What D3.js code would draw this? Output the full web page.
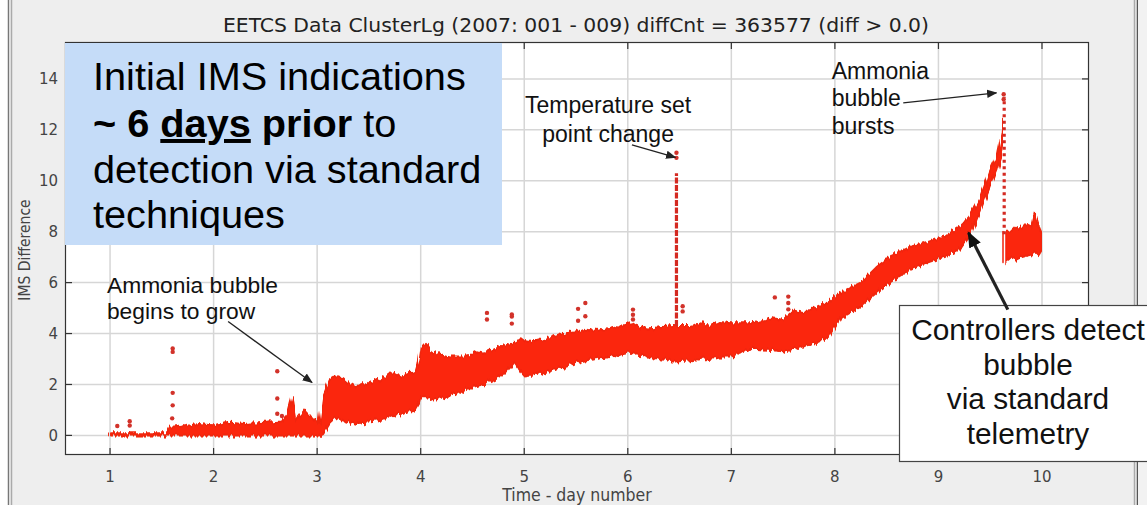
<!DOCTYPE html>
<html><head><meta charset="utf-8">
<script src="https://cdn.jsdelivr.net/npm/d3@7"></script>
<style>
html,body{margin:0;padding:0;background:#fff;}
svg{display:block;}
</style></head><body>
<svg id="c" width="1147" height="505"></svg>
<script>
// ---------- data ----------
const title = "EETCS Data ClusterLg (2007: 001 - 009) diffCnt = 363577 (diff > 0.0)";
const xLabel = "Time - day number";
const yLabel = "IMS Difference";
const xTicks = [1,2,3,4,5,6,7,8,9,10];
const yTicks = [0,2,4,6,8,10,12,14];

// envelope of the dense cloud of IMS difference points (null = gap)
const bandDays = [1.0,1.55,1.58,1.7,1.85,2.0,2.15,2.3,2.5,2.65,2.72,2.76,2.8,2.88,2.95,3.02,3.06,3.12,3.18,3.25,3.32,3.4,3.47,3.5,3.6,3.66,3.73,3.8,3.85,3.95,3.98,4.0,4.05,4.1,4.15,4.3,4.45,4.55,4.64,4.72,4.8,4.9,5.0,5.1,5.2,5.3,5.4,5.5,5.6,5.7,5.85,6.02,6.1,6.2,6.3,6.45,6.6,6.7,6.8,6.9,7.0,7.2,7.4,7.5,7.6,7.7,7.8,7.95,8.05,8.15,8.25,8.4,8.56,8.72,8.9,9.05,9.2,9.3,9.4,9.5,9.57,9.61,9.63,9.637,9.645,9.7,9.75,9.8,9.85,9.9,9.93,9.97,10.0];
const bandLo   = [0,0,0,0,0,0,0,0,0,0,0,0,0,0,0,0,0.1,0.5,0.7,0.6,0.5,0.45,0.5,0.55,0.6,0.7,0.75,0.85,0.9,1.0,1.2,1.5,1.5,1.45,1.4,1.6,1.8,1.95,2.05,2.2,2.4,2.9,2.35,2.4,2.5,2.6,2.7,2.85,2.95,3.0,3.1,3.25,3.2,3.1,3.0,2.9,2.95,3.0,3.05,3.1,3.1,3.4,3.35,3.3,3.4,3.5,3.6,3.9,4.6,4.85,5.05,5.6,6.1,6.5,6.8,7.0,7.3,7.8,8.8,9.8,10.5,11.0,11.5,null,6.8,7.0,6.9,7.0,7.05,7.1,7.2,7.1,7.3];
const bandHi   = [0.08,0.08,0.3,0.35,0.45,0.4,0.5,0.45,0.5,0.55,0.9,1.5,0.6,1.0,0.7,0.5,1.6,2.2,2.35,2.25,2.0,1.9,2.1,2.0,2.2,2.35,2.45,2.3,2.4,2.5,2.9,3.4,3.6,3.3,3.2,3.1,3.1,3.3,3.25,3.4,3.5,3.65,3.75,3.7,3.8,3.9,4.0,4.05,4.15,4.1,4.2,4.4,4.3,4.2,4.25,4.3,4.3,4.4,4.35,4.45,4.4,4.4,4.6,4.55,4.9,4.8,5.0,5.25,5.6,5.8,6.0,6.6,7.1,7.4,7.6,7.8,8.15,8.6,9.3,10.4,11.0,11.8,12.4,null,8.0,8.0,8.2,8.1,8.3,8.2,8.7,8.2,7.9];

// isolated points
const outlierDays = [1.07,1.19,1.19,1.605,1.605,1.605,1.605,1.6,2.615,2.615,2.615,2.66,4.64,4.64,4.88,4.88,4.88,5.52,5.59,5.59,5.52,6.05,6.05,6.05,6.53,6.53,7.42,7.55,7.55,7.55,6.47,6.47,9.63,9.63];
const outlierVals = [0.37,0.56,0.39,3.41,3.28,1.67,1.18,0.67,2.52,1.45,0.85,0.76,4.81,4.55,4.75,4.67,4.39,4.97,5.2,4.68,4.5,4.94,4.74,4.55,5.07,4.87,5.42,5.45,5.2,4.95,11.1,10.9,13.4,13.2];

// near-vertical runs of points (temperature set point change, bubble burst)
const spikeDays = [6.47, 9.635];
const spikeFrom = [4.3, 7.9];
const spikeTo   = [10.3, 13.3];

// ---------- layout ----------
const svg = d3.select("#c");
const W = 1147, H = 505;
const plot = {left:65, top:42, right:1089, bottom:455};

const x = d3.scaleLinear().domain([0.565, 10.454]).range([plot.left, plot.right]);
const y = d3.scaleLinear().domain([-0.77, 15.45]).range([plot.bottom, plot.top]);

const defs = svg.append("defs");
// rendering style: vertical streak texture for the dense point cloud
const flt = defs.append("filter").attr("id","streak").attr("x","-2%").attr("y","-10%").attr("width","104%").attr("height","120%");
flt.append("feTurbulence").attr("type","fractalNoise").attr("baseFrequency","0.45 0.004").attr("numOctaves",1).attr("seed",3).attr("result","n");
flt.append("feDisplacementMap").attr("in","SourceGraphic").attr("in2","n").attr("scale",9)
  .attr("xChannelSelector","A").attr("yChannelSelector","R");

// panel background
svg.append("rect").attr("x",0).attr("y",0).attr("width",W).attr("height",H).attr("fill","#fff");
svg.append("rect").attr("x",10).attr("y",0).attr("width",1127).attr("height",H).attr("fill","#eeeeee");
[[8,"#777"],[11,"#aaa"],[1134,"#aaa"],[1137,"#555"]].forEach(([lx,c])=>{
  svg.append("line").attr("x1",lx+0.5).attr("x2",lx+0.5).attr("y1",0).attr("y2",H)
    .attr("stroke",c).attr("stroke-width",1.5);
});
svg.append("rect").attr("x",1138).attr("y",0).attr("width",9).attr("height",H).attr("fill","#f2f2f2");

const cf = "'DejaVu Sans Condensed','DejaVu Sans',sans-serif";
// title
svg.append("text").attr("x",576).attr("y",32).attr("text-anchor","middle")
  .attr("font-family",cf).attr("font-stretch","condensed")
  .attr("font-size",19).attr("fill","#222")
  .attr("textLength",706).attr("lengthAdjust","spacingAndGlyphs").text(title);

// plot background
svg.append("rect").attr("x",plot.left).attr("y",plot.top)
  .attr("width",plot.right-plot.left).attr("height",plot.bottom-plot.top).attr("fill","#fff");

// grid
const grid = svg.append("g").attr("stroke","#d6d6d6").attr("stroke-width",1.5);
xTicks.forEach(t=>grid.append("line").attr("x1",x(t)).attr("x2",x(t)).attr("y1",plot.top).attr("y2",plot.bottom));
yTicks.forEach(t=>grid.append("line").attr("y1",y(t)).attr("y2",y(t)).attr("x1",plot.left).attr("x2",plot.right));

// clip
svg.append("clipPath").attr("id","pc").append("rect")
  .attr("x",plot.left).attr("y",plot.top).attr("width",plot.right-plot.left).attr("height",plot.bottom-plot.top);
const g = svg.append("g").attr("clip-path","url(#pc)");

// band
const bandData = bandDays.map((d,i)=>({d, lo:bandLo[i], hi:bandHi[i]}));
const area = d3.area().defined(p=>p.lo!==null).x(p=>x(p.d)).y0(p=>y(p.lo)).y1(p=>y(p.hi)).curve(d3.curveLinear);
g.append("g").attr("filter","url(#streak)")
  .append("path").datum(bandData).attr("d",area).attr("fill","#fb250b")
  .attr("stroke","#f0260c").attr("stroke-width",2).attr("stroke-linejoin","round");

// spikes
spikeDays.forEach((d,i)=>{
  g.append("line").attr("x1",x(d)).attr("x2",x(d)).attr("y1",y(spikeFrom[i])).attr("y2",y(spikeTo[i]))
    .attr("stroke","#d42a22").attr("stroke-width",3.2)
    .attr("stroke-dasharray", i===0 ? "6,1.5" : "3,3.5");
});

// outliers
g.selectAll("circle.o").data(outlierDays.map((d,i)=>({d,v:outlierVals[i]}))).enter()
  .append("circle").attr("class","o").attr("cx",p=>x(p.d)).attr("cy",p=>y(p.v)).attr("r",2.2)
  .attr("fill","#d2322a");

// frame
svg.append("rect").attr("x",plot.left+0.5).attr("y",plot.top+0.5)
  .attr("width",plot.right-plot.left-1).attr("height",plot.bottom-plot.top-1)
  .attr("fill","none").attr("stroke","#333").attr("stroke-width",1.2);

// inward ticks on all sides
const tk = svg.append("g").attr("stroke","#333").attr("stroke-width",1.2);
xTicks.forEach(t=>{
  tk.append("line").attr("x1",x(t)).attr("x2",x(t)).attr("y1",plot.bottom).attr("y2",plot.bottom-7);
  tk.append("line").attr("x1",x(t)).attr("x2",x(t)).attr("y1",plot.top).attr("y2",plot.top+7);
});
yTicks.forEach(t=>{
  tk.append("line").attr("y1",y(t)).attr("y2",y(t)).attr("x1",plot.left).attr("x2",plot.left+7);
  tk.append("line").attr("y1",y(t)).attr("y2",y(t)).attr("x1",plot.right).attr("x2",plot.right-7);
});

// tick labels
const tf = "'DejaVu Sans','DejaVu Sans Condensed',sans-serif";
svg.append("g").selectAll("text").data(xTicks).enter().append("text")
  .attr("x",d=>x(d)).attr("y",482).attr("text-anchor","middle")
  .attr("font-family",tf).attr("font-size",15).attr("fill","#444").text(d=>d);
svg.append("g").selectAll("text").data(yTicks).enter().append("text")
  .attr("x",58).attr("y",d=>y(d)+5.5).attr("text-anchor","end")
  .attr("font-family",tf).attr("font-size",15).attr("fill","#444").text(d=>d);

svg.append("text").attr("x",577).attr("y",501).attr("text-anchor","middle")
  .attr("font-family",cf).attr("font-stretch","condensed")
  .attr("font-size",17.5).attr("fill","#444").text(xLabel);
svg.append("text").attr("transform","translate(30,250) rotate(-90)").attr("text-anchor","middle")
  .attr("font-family",cf).attr("font-stretch","condensed")
  .attr("font-size",15.5).attr("fill","#444").text(yLabel);

// ---------- annotations ----------
const af = "'Liberation Sans',Arial,sans-serif";
defs.append("marker").attr("id","ah").attr("viewBox","0 0 10 10").attr("refX",9).attr("refY",5)
  .attr("markerWidth",8).attr("markerHeight",8).attr("orient","auto-start-reverse")
  .append("path").attr("d","M0,1 L10,5 L0,9 z").attr("fill","#222");
defs.append("marker").attr("id","ah2").attr("viewBox","0 0 10 10").attr("refX",9).attr("refY",5)
  .attr("markerWidth",5).attr("markerHeight",5).attr("orient","auto-start-reverse")
  .append("path").attr("d","M0,1 L10,5 L0,9 z").attr("fill","#111");

function note(lines, d, v, size, lh, anchor){
  const t = svg.append("text").attr("font-family",af).attr("font-size",size).attr("fill","#111")
    .attr("text-anchor",anchor);
  lines.forEach((s,i)=>t.append("tspan").attr("x",x(d)).attr("y",y(v)+i*lh).text(s));
}
function arrow(d1,v1,d2,v2,w,m){
  svg.append("line").attr("x1",x(d1)).attr("y1",y(v1)).attr("x2",x(d2)).attr("y2",y(v2))
    .attr("stroke","#222").attr("stroke-width",w).attr("marker-end",`url(#${m})`);
}
note(["Ammonia bubble","begins to grow"], 0.97, 5.61, 22.8, 26, "start");
arrow(2.14,4.47,2.95,2.08,1.3,"ah");
note(["Temperature set","point change"], 5.81, 12.67, 23, 29, "middle");
arrow(6.04,11.41,6.46,10.92,1.3,"ah");
note(["Ammonia","bubble","bursts"], 7.97, 14.0, 23, 27.5, "start");
arrow(8.66,13.06,9.56,13.45,1.3,"ah");

// controllers box
svg.append("rect").attr("x",899.5).attr("y",305.5).attr("width",260).attr("height",156)
  .attr("fill","#fff").attr("stroke","#444").attr("stroke-width",1.2);
const ct = svg.append("text").attr("font-family",af).attr("font-size",29.8).attr("fill","#111").attr("text-anchor","middle");
["Controllers detect","bubble","via standard","telemetry"].forEach((s,i)=>
  ct.append("tspan").attr("x",1028).attr("y",340+i*34.7).text(s));
arrow(9.67,4.94,9.29,7.96,3.2,"ah2");

// blue callout box
svg.append("rect").attr("x",65).attr("y",43).attr("width",437).attr("height",202).attr("fill","#c5dcf8");
const bt = svg.append("text").attr("font-family",af).attr("font-size",39.7).attr("fill","#000");
bt.append("tspan").attr("x",93).attr("y",90).text("Initial IMS indications");
bt.append("tspan").attr("x",93).attr("y",137).attr("font-weight","bold").text("~ 6 ");
bt.append("tspan").attr("font-weight","bold").style("text-decoration","underline").text("days");
bt.append("tspan").attr("font-weight","bold").text(" prior");
bt.append("tspan").text(" to");
bt.append("tspan").attr("x",93).attr("y",183).text("detection via standard");
bt.append("tspan").attr("x",93).attr("y",228).text("techniques");
</script>
</body></html>
